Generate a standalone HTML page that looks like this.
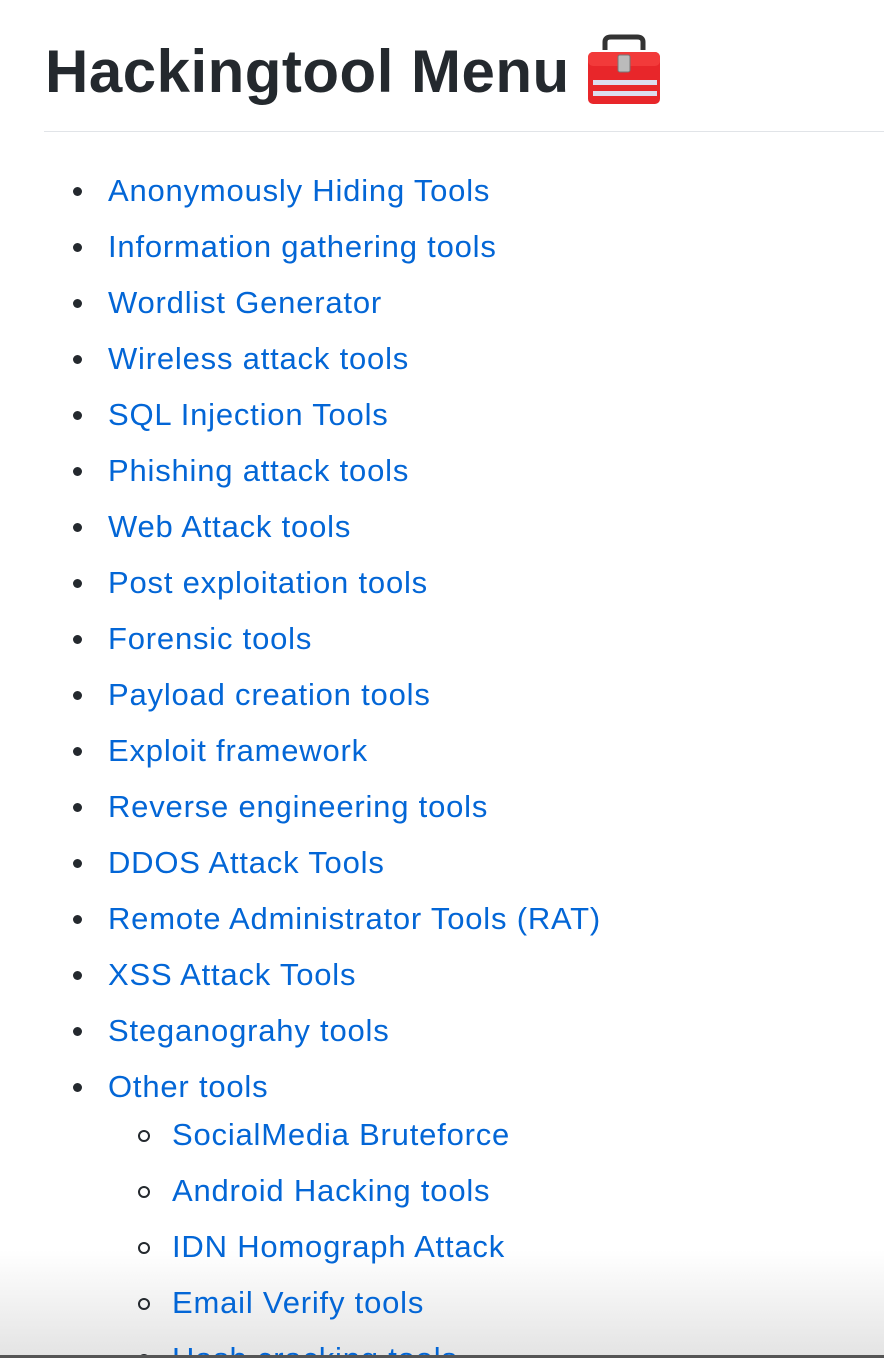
<!DOCTYPE html>
<html style="overflow:hidden;height:1358px"><head><meta charset="utf-8"><style>
body{margin:0;width:884px;height:1358px;overflow:hidden;background:#fff;font-family:"Liberation Sans",Arial,sans-serif;position:relative}
h1{position:absolute;left:45px;top:29px;margin:0;font-size:60px;font-weight:bold;color:#24292e;line-height:86px;letter-spacing:0.5px}
.rule{position:absolute;left:44px;right:0;top:131px;height:1px;background:#e1e4e8}
.it{position:absolute;left:108px;font-size:31px;letter-spacing:0.8px;color:#0366d6;line-height:36px;height:36px;white-space:nowrap;text-decoration:none}
.b{position:absolute;left:73px;width:9px;height:9px;border-radius:50%;background:#24292e}
.s{position:absolute;left:138px;width:8px;height:8px;border-radius:50%;border:2px solid #24292e}
.fade{position:absolute;left:0;right:0;top:1250px;height:105px;background:linear-gradient(#fff,#e4e4e4)}
.bar{position:absolute;left:0;right:0;top:1355px;height:3px;background:#555}
.box{position:absolute;left:585px;top:34px;width:78px;height:72px}
</style></head><body>
<div class="fade"></div>
<h1>Hackingtool Menu</h1>
<svg class="box" viewBox="0 0 78 72">
<path d="M20 16 V8 Q20 3 26 3 H52 Q58 3 58 8 V16" fill="none" stroke="#333" stroke-width="5"/>
<rect x="3" y="18" width="72" height="52" rx="5" fill="#e8262a"/>
<rect x="3" y="18" width="72" height="14" rx="5" fill="#f23a3a"/>
<rect x="33" y="21" width="12" height="17" rx="2" fill="#bbb" stroke="#777"/>
<rect x="8" y="46" width="64" height="5" fill="#dde" /><rect x="8" y="57" width="64" height="5" fill="#dde"/>
</svg>
<div class="rule"></div>
<div id="list"></div>
<div class="bar"></div>
<script>
const items=["Anonymously Hiding Tools","Information gathering tools","Wordlist Generator","Wireless attack tools","SQL Injection Tools","Phishing attack tools","Web Attack tools","Post exploitation tools","Forensic tools","Payload creation tools","Exploit framework","Reverse engineering tools","DDOS Attack Tools","Remote Administrator Tools (RAT)","XSS Attack Tools","Steganograhy tools","Other tools"];
const subs=["SocialMedia Bruteforce","Android Hacking tools","IDN Homograph Attack","Email Verify tools","Hash cracking tools"];
const L=document.getElementById('list');
function add(t,y,sub){
 const b=document.createElement('div');b.className=sub?'s':'b';
 b.style.top=(y-(sub?5:4))+'px';
 
 
 L.appendChild(b);
 const a=document.createElement('a');a.className='it';a.href='#';a.textContent=t;
 a.style.top=(y-18)+'px';if(sub)a.style.left='172px';
 
 
 L.appendChild(a);
}
items.forEach((t,i)=>add(t,191+56*i,false));
subs.forEach((t,i)=>add(t,1135+56*i,true));
</script>
</body></html>
